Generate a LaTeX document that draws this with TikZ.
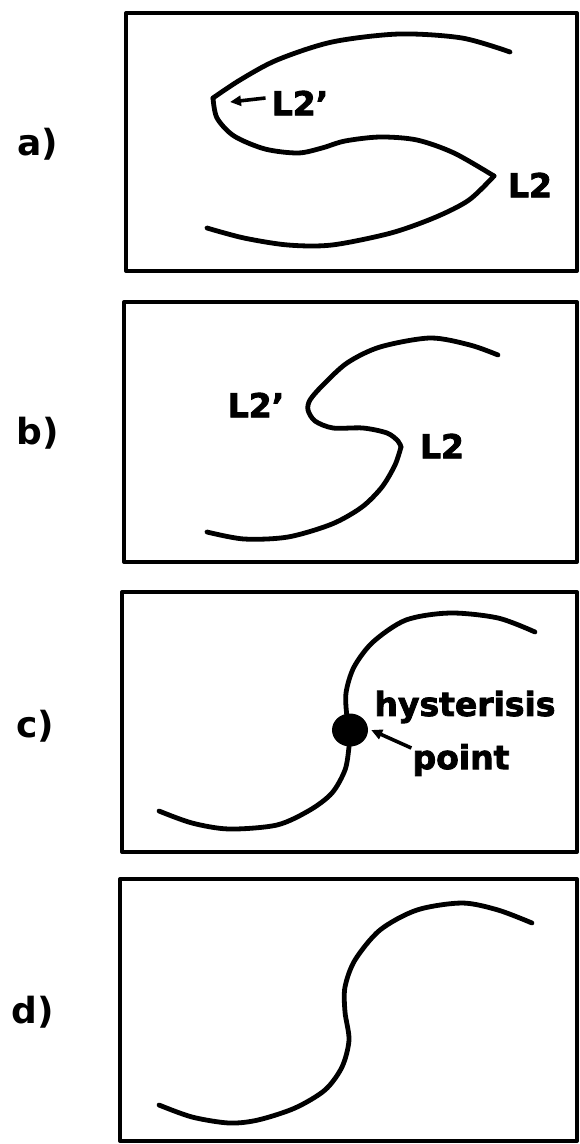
\documentclass[tikz,border=0pt]{standalone}
\usepackage{fontspec}
\setsansfont{DejaVu Sans}
\newfontfamily\heavyfont{DejaVu Sans Bold}[FakeBold=2.5]
\usetikzlibrary{arrows.meta, positioning, shapes.geometric}

\begin{document}
\begin{tikzpicture}[x=1pt, y=-1pt,
    frame/.style={line width=4pt, line join=round},
    curve/.style={line width=4.8pt, line cap=round, line join=round},
    tag/.style={font=\sffamily\bfseries\fontsize{36}{40}\selectfont, inner sep=0pt},
    lbl/.style={font=\heavyfont\fontsize{33}{38}\selectfont, inner sep=0pt},
    pointer/.style={line width=3.6pt, -{Triangle[length=11pt, width=10pt]}}]

    \useasboundingbox (0,0) rectangle (579,1144);

    % a) two folds
    \draw[frame] (126,13) rectangle (577,271);
    \node[tag] (tagA) at (38,144) {a)};
    \coordinate (foldpA) at (213,98);
    \coordinate (foldA) at (494,176);
    \draw[curve] plot[smooth] coordinates {(510,52) (462,38) (399,34) (332,42) (277,60) (240,80) (foldpA)};
    \draw[curve] plot[smooth] coordinates {(foldpA) (217,118) (234,136) (265,149) (298,153) (322,148) (345,141) (380,137) (417,140) (454,153) (foldA)};
    \draw[curve] plot[smooth] coordinates {(foldA) (469,200) (436,217) (391,233) (332,245) (288,245) (244,238) (207,228)};
    \node[lbl] (L2pA) at (300,103) {L2’};
    \node[lbl] (L2A) at (530,185) {L2};
    \coordinate (tipA) at (230,102);
    \draw[pointer] ([xshift=-6pt, yshift=5pt]L2pA.west) -- (tipA);

    % b) folds closer together
    \draw[frame] (124,302) rectangle (577,562);
    \node[tag] (tagB) at (38,433) {b)};
    \coordinate (foldB) at (401,447);
    \draw[curve] plot[smooth] coordinates {(498,355) (470,345) (430,338) (380,347) (347,363) (322,386) (310,400) (308,410) (315,421) (333,428) (363,428) (387,433) (398,441) (foldB)};
    \draw[curve] plot[smooth] coordinates {(foldB) (395,465) (382,487) (362,507) (332,524) (288,537) (244,539) (207,532)};
    \node[lbl] (L2pB) at (256,405) {L2’};
    \node[lbl] (L2B) at (442,446) {L2};

    % c) folds merge
    \draw[frame] (122,592) rectangle (577,852);
    \node[tag] (tagC) at (35,726) {c)};
    \draw[curve] plot[smooth] coordinates {(535,632) (498,618) (450,613) (406,620) (373,642) (354,667) (346,693) (347,717) (350,730) (349,747) (345,770) (332,793) (310,810) (277,825) (229,829) (192,823) (159,811)};
    \node[ellipse, fill, minimum width=36pt, minimum height=33pt, inner sep=0pt] (hyst) at (350,730) {};
    \node[lbl] (hystTxt) at (465,707) {hysterisis};
    \node[lbl] (pointTxt) at (461,760) {point};
    \draw[pointer] ([xshift=-1pt, yshift=12pt]pointTxt.west) -- ([xshift=3pt]hyst.east);

    % d) single-valued
    \draw[frame] (120,879) rectangle (577,1141);
    \node[tag] (tagD) at (33,1012) {d)};
    \draw[curve] plot[smooth] coordinates {(532,923) (498,910) (462,903) (417,910) (380,930) (355,960) (345,987) (345,1012) (349,1040) (342,1067) (325,1090) (295,1108) (258,1120) (229,1123) (192,1117) (159,1105)};

\end{tikzpicture}
\end{document}
